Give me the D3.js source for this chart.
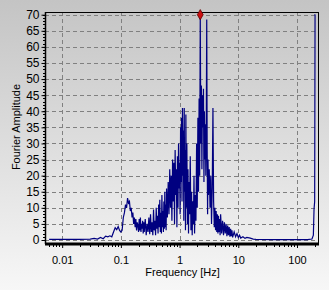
<!DOCTYPE html>
<html>
<head>
<meta charset="utf-8">
<script src="https://cdn.jsdelivr.net/npm/d3@7"></script>
<style>
  html, body { margin: 0; padding: 0; }
  body { width: 329px; height: 290px; overflow: hidden; }
  text { font-family: "Liberation Sans", Arial, sans-serif; font-size: 11px; fill: #000; }
</style>
</head>
<body>
<div id="chart"></div>
<script>
// spectrum: frequency [Hz] and amplitude
const freqs = [0.006, 0.01, 0.02, 0.03, 0.035, 0.04, 0.045, 0.05, 0.055, 0.06, 0.065, 0.07, 0.075, 0.08, 0.085, 0.09, 0.095, 0.1,
    0.105, 0.11, 0.115, 0.12, 0.125, 0.13, 0.135, 0.14, 0.145, 0.15, 0.155, 0.16, 0.165, 0.17, 0.175, 0.18, 0.185, 0.19, 0.195, 0.2,
    0.205, 0.21, 0.215, 0.22, 0.225, 0.23, 0.235, 0.24, 0.245, 0.25, 0.26, 0.27, 0.28, 0.29, 0.3, 0.31, 0.32, 0.33, 0.34, 0.35,
    0.36, 0.37, 0.38, 0.39, 0.4, 0.41, 0.42, 0.43, 0.44, 0.45, 0.46, 0.47, 0.48, 0.49, 0.5, 0.51, 0.52, 0.53, 0.54, 0.55,
    0.56, 0.57, 0.58, 0.59, 0.6, 0.62, 0.64, 0.66, 0.68, 0.7, 0.72, 0.74, 0.76, 0.78, 0.8, 0.82, 0.84, 0.86, 0.88, 0.9,
    0.92, 0.94, 0.96, 0.98, 1.0, 1.02, 1.04, 1.06, 1.08, 1.1, 1.12, 1.14, 1.16, 1.18, 1.2, 1.22, 1.24, 1.26, 1.28, 1.3,
    1.33, 1.36, 1.39, 1.42, 1.45, 1.48, 1.52, 1.56, 1.6, 1.64, 1.68, 1.72, 1.76, 1.8, 1.85, 1.9, 1.95, 2.0, 2.05, 2.1,
    2.15, 2.2, 2.25, 2.3, 2.35, 2.4, 2.45, 2.5, 2.55, 2.6, 2.65, 2.7, 2.75, 2.8, 2.85, 2.9, 2.95, 3.0, 3.05, 3.1,
    3.2, 3.3, 3.4, 3.5, 3.6, 3.7, 3.8, 3.9, 4.0, 4.1, 4.2, 4.3, 4.4, 4.5, 4.6, 4.7, 4.8, 4.9, 5.0, 5.2,
    5.4, 5.6, 5.8, 6.0, 6.2, 6.4, 6.6, 6.8, 7.0, 7.2, 7.4, 7.6, 7.8, 8.0, 8.5, 9.0, 9.5, 10, 10.5, 11,
    12, 13, 14, 16, 18, 20, 40, 100, 150, 180, 190, 195, 200, 203, 205];
const amps = [0.2, 0.2, 0.2, 0.3, 0.5, 0.3, 0.8, 0.4, 1.2, 1.0, 1.3, 1.0, 2.5, 3.8, 3.2, 4.2, 3.0, 2.5,
    3.0, 7.0, 8.5, 11.0, 10.0, 13.0, 11.5, 12.0, 9.0, 10.0, 7.0, 8.5, 5.0, 7.0, 4.0, 6.5, 3.0, 5.5, 4.5, 2.5,
    6.5, 3.0, 7.0, 2.5, 5.0, 3.5, 6.0, 2.0, 5.5, 2.5, 6.5, 1.5, 5.0, 2.5, 7.0, 1.8, 8.0, 2.5, 5.5, 1.5,
    9.5, 3.0, 6.0, 1.5, 10.0, 3.5, 7.5, 2.0, 11.0, 4.0, 12.5, 2.5, 8.5, 2.0, 14.0, 4.0, 9.0, 2.5, 12.0, 3.5,
    15.0, 4.0, 11.0, 3.0, 16.0, 7.0, 18.0, 8.0, 22.0, 10.0, 20.0, 6.0, 25.0, 12.0, 24.0, 5.0, 28.0, 14.0, 22.0, 4.0,
    26.0, 10.0, 30.0, 16.0, 24.0, 8.0, 35.0, 18.0, 38.0, 12.0, 41.0, 20.0, 34.0, 6.0, 41.0, 15.0, 28.0, 3.0, 39.0, 10.0,
    30.0, 5.0, 22.0, 2.0, 18.0, 8.0, 26.0, 3.0, 15.0, 1.5, 12.0, 5.0, 20.0, 2.0, 14.0, 6.0, 30.0, 10.0, 38.0, 15.0,
    44.0, 20.0, 70.0, 30.0, 48.0, 22.0, 45.0, 35.0, 47.0, 18.0, 40.0, 25.0, 36.0, 20.0, 35.0, 68.5, 28.0, 8.0, 25.0, 14.0,
    22.0, 10.0, 20.0, 5.0, 16.0, 41.0, 12.0, 4.0, 10.0, 3.0, 9.0, 2.5, 8.0, 2.0, 7.5, 2.5, 6.5, 1.5, 8.0, 2.0,
    6.0, 1.5, 5.5, 2.0, 5.0, 1.2, 4.5, 1.5, 4.0, 1.0, 3.5, 1.2, 3.0, 0.8, 2.5, 1.0, 2.0, 0.8, 1.5, 0.6,
    1.0, 0.5, 0.8, 0.6, 0.3, 0.2, 0.1, 0.1, 0.1, 0.3, 1.5, 9.5, 12.0, 70, 70];
const peak = {f: 2.25, a: 70};

const yTicks = [0, 5, 10, 15, 20, 25, 30, 35, 40, 45, 50, 55, 60, 65, 70];
const xTicks = [0.01, 0.1, 1, 10, 100];
const xTickLabels = ["0.01", "0.1", "1", "10", "100"];

const W = 329, H = 290;
const margin = {top: 12, right: 10, bottom: 46, left: 45};
const width = W - margin.left - margin.right;
const height = H - margin.top - margin.bottom;

const svg = d3.select("#chart").append("svg")
    .attr("width", W)
    .attr("height", H);

// grey gradient background
const grad = svg.append("defs").append("linearGradient")
    .attr("id", "bg").attr("x1", 0).attr("y1", 0).attr("x2", 0).attr("y2", 1);
grad.append("stop").attr("offset", "0%").attr("stop-color", "#c4c4c4");
grad.append("stop").attr("offset", "100%").attr("stop-color", "#f7f7f7");
svg.select("defs").append("clipPath").attr("id", "clip")
    .append("rect").attr("width", width).attr("height", height);

svg.append("rect").attr("width", W).attr("height", H).attr("fill", "url(#bg)");

const g = svg.append("g")
    .attr("transform", "translate(" + margin.left + "," + margin.top + ")");

const x = d3.scaleLog().domain([0.0051, 237]).range([0, width]);
const y = d3.scaleLinear().domain([-1.24, 70.84]).range([height, 0]);

// grid
g.append("g").selectAll("line").data(yTicks).join("line")
    .attr("x1", 0).attr("x2", width)
    .attr("y1", d => Math.round(y(d)) + 0.5).attr("y2", d => Math.round(y(d)) + 0.5)
    .attr("stroke", "#808080").attr("stroke-dasharray", "4,3");
g.append("g").selectAll("line").data(xTicks).join("line")
    .attr("y1", 0).attr("y2", height)
    .attr("x1", d => Math.round(x(d)) + 0.5).attr("x2", d => Math.round(x(d)) + 0.5)
    .attr("stroke", "#808080").attr("stroke-dasharray", "4,3");

// spectrum
const data = freqs.map((f, i) => ({f: f, a: amps[i]}));
const line = d3.line().x(d => x(d.f)).y(d => y(d.a));
g.append("path")
    .datum(data)
    .attr("clip-path", "url(#clip)")
    .attr("fill", "none")
    .attr("stroke", "#000080")
    .attr("stroke-width", 1.2)
    .attr("d", line);

// frame
g.append("line").attr("x1", 0).attr("x2", width).attr("y1", 0.5).attr("y2", 0.5).attr("stroke", "#000");
g.append("line").attr("x1", width - 0.5).attr("x2", width - 0.5).attr("y1", 0).attr("y2", height).attr("stroke", "#000");

// y axis
const yAxis = g.append("g").attr("transform", "translate(0.5,0)")
    .call(d3.axisLeft(y).tickValues(yTicks).tickSize(4).tickPadding(2));
yAxis.select(".domain").attr("stroke", "#000").attr("stroke-width", 1.5).attr("d", "M0,0V" + height);
yAxis.selectAll("text").style("font-size", "12px");
g.append("g").selectAll("line").data(d3.range(0, 71)).join("line")
    .attr("x1", -2).attr("x2", 0)
    .attr("y1", d => Math.round(y(d)) + 0.5).attr("y2", d => Math.round(y(d)) + 0.5)
    .attr("stroke", "#000");

// x axis
const xAxis = g.append("g").attr("transform", "translate(0," + height + ")")
    .call(d3.axisBottom(x).tickValues(xTicks).tickFormat((d, i) => xTickLabels[i]).tickSize(4).tickPadding(8));
xAxis.select(".domain").attr("stroke", "#000").attr("stroke-width", 3).attr("d", "M0,0H" + width);
const minor = x.ticks().filter(d => xTicks.indexOf(d) < 0);
xAxis.append("g").selectAll("line").data(minor).join("line")
    .attr("x1", d => Math.round(x(d)) + 0.5).attr("x2", d => Math.round(x(d)) + 0.5)
    .attr("y1", 0).attr("y2", 3).attr("stroke", "#000");

// peak marker
g.append("path")
    .attr("d", d3.symbol().type(d3.symbolDiamond).size(30))
    .attr("transform", "translate(" + x(peak.f) + "," + y(peak.a) + ")")
    .attr("fill", "#cc1010").attr("stroke", "#600000").attr("stroke-width", 0.8);

// labels
svg.append("text")
    .attr("x", margin.left + x(1) + 3).attr("y", 276)
    .attr("text-anchor", "middle")
    .text("Frequency [Hz]");
svg.append("text")
    .attr("transform", "translate(20," + 127 + ") rotate(-90)")
    .attr("text-anchor", "middle")
    .text("Fourier Amplitude");
</script>
</body>
</html>
